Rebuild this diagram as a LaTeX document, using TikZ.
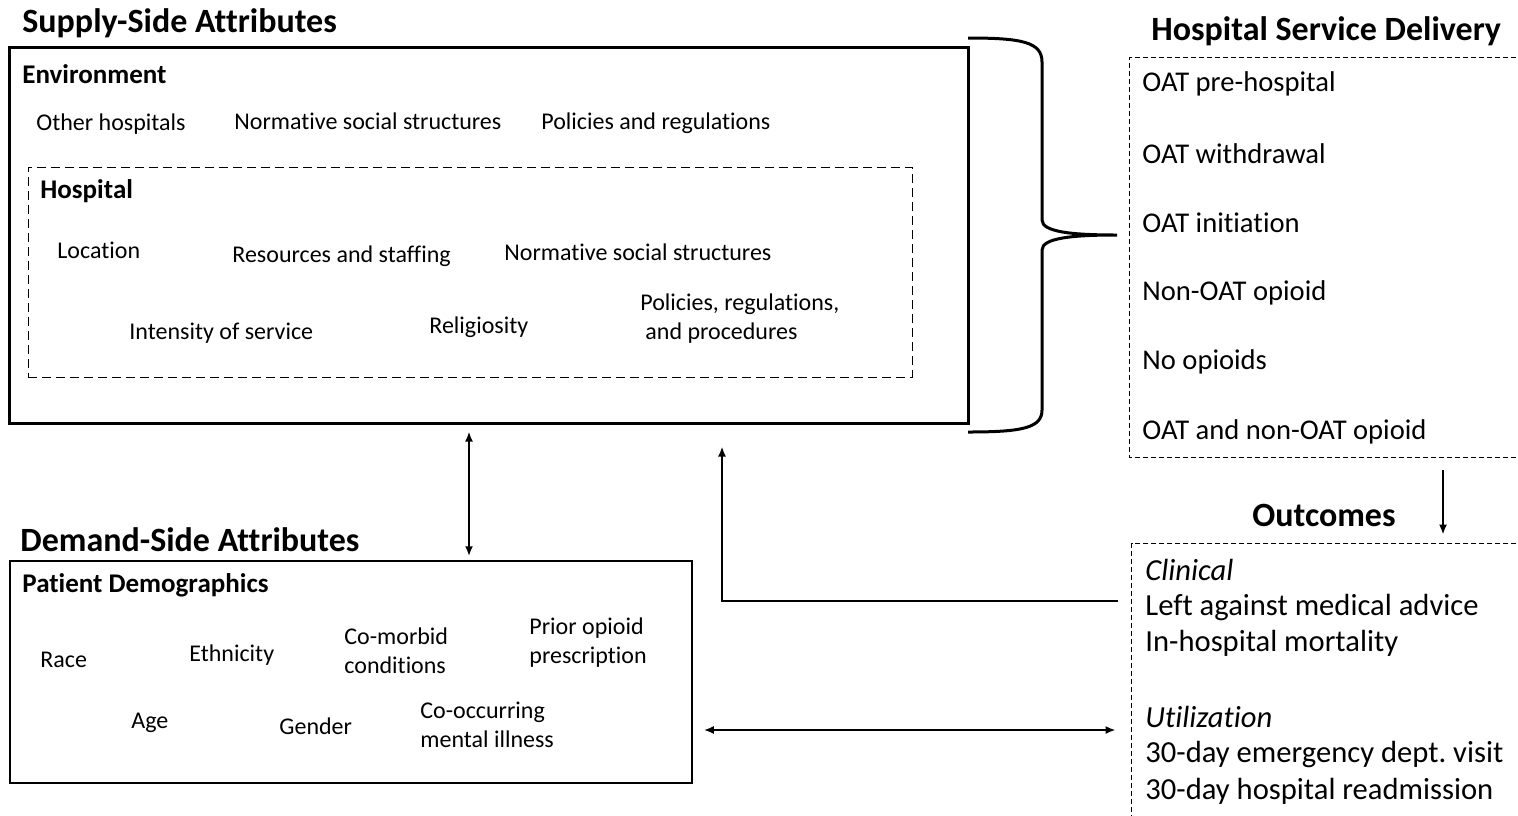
\documentclass[tikz,border=0pt]{standalone}
\usepackage{fontspec}
\setmainfont{Carlito}[Ligatures={NoCommon}]
\usetikzlibrary{arrows.meta,fit}

\tikzset{
  solidbox/.style={draw,inner sep=0pt,line width=1.5pt},
  thinbox/.style={draw,inner sep=0pt,line width=0.75pt},
  dashbox/.style={draw,inner sep=0pt,line width=0.5pt,dash pattern=on 4.5pt off 2.5pt},
  dotbox/.style={line width=0.5pt,dash pattern=on 2.5pt off 1.5pt},
  head/.style={anchor=west,inner sep=0pt,font=\fontsize{17}{20}\selectfont\bfseries},
  subhead/.style={anchor=west,inner sep=0pt,font=\fontsize{13.5}{16}\selectfont\bfseries},
  attr/.style={anchor=west,inner sep=0pt,align=left,font=\fontsize{12}{14.5}\selectfont},
  service/.style={anchor=west,inner sep=0pt,font=\fontsize{14.3}{17}\selectfont},
  outcome/.style={anchor=west,inner sep=0pt,font=\fontsize{15.3}{18}\selectfont},
  link/.style={line width=1pt,-{Latex[length=5pt,width=4pt]}},
  twoway/.style={line width=1pt,{Latex[length=5pt,width=4pt]}-{Latex[length=5pt,width=4pt]}}
}

\begin{document}
\frenchspacing
\begin{tikzpicture}[x=0.5pt,y=-0.5pt]
\clip (0,0) rectangle (1518,815);

% supply side
\node[head] (supplyhead) at (22,23) {Supply-Side Attributes};
\node[solidbox,fit={(9,47) (968,423)}] (supply) {};
\node[subhead] (envhead) at (22,74) {Environment};
\node[attr] (otherhosp) at (36,124) {Other hospitals};
\node[attr] (envnorms) at (234,121) {Normative social structures};
\node[attr] (envpolicy) at (541,123) {Policies and regulations};

\node[dashbox,fit={(28,167) (912,377)}] (hospital) {};
\node[subhead] (hosphead) at (40,191) {Hospital};
\node[attr] (location) at (57,250) {Location};
\node[attr] (resources) at (232,256) {Resources and staffing};
\node[attr] (hospnorms) at (504,252) {Normative social structures};
\node[attr] (intensity) at (129,333) {Intensity of service};
\node[attr] (religion) at (429,327) {Religiosity};
\node[attr] (hosppolicy) at (640,318.5) {Policies, regulations,\\\hspace{2.5pt}and procedures};

% brace towards service delivery
\draw[line width=1.5pt] (968,38) .. controls (1022,38) and (1042,42) .. (1042,62)
  -- (1042,220) .. controls (1042,232) and (1072,235) .. (1117,235)
  .. controls (1072,235) and (1042,238) .. (1042,250)
  -- (1042,410) .. controls (1042,428) and (1022,432) .. (968,432);

% hospital service delivery
\node[head] (hsdhead) at (1151,31) {Hospital Service Delivery};
\node[fit={(1130,58) (1540,457)},inner sep=0pt] (hsd) {};
\draw[dotbox] (hsd.north east) -- (hsd.north west) -- (hsd.south west) -- (hsd.south east);
\node[service] (prehosp) at (1142,84) {OAT pre-hospital};
\node[service] (withdraw) at (1142,154) {OAT withdrawal};
\node[service] (initiate) at (1142,223) {OAT initiation};
\node[service] (nonoat) at (1142,293) {Non-OAT opioid};
\node[service] (noopioid) at (1142,362) {No opioids};
\node[service] (both) at (1142,432) {OAT and non-OAT opioid};

% outcomes
\node[head] (outhead) at (1252,515) {Outcomes};
\node[fit={(1132,544) (1540,830)},inner sep=0pt] (outcomes) {};
\draw[dotbox] (outcomes.north east) -- (outcomes.north west) -- (outcomes.south west);
\node[outcome] (clinical) at (1145,570) {\itshape Clinical};
\node[outcome] (ama) at (1145,607) {Left against medical advice};
\node[outcome] (mortality) at (1145,643) {In-hospital mortality};
\node[outcome] (utilization) at (1145,717) {\itshape Utilization};
\node[outcome] (edvisit) at (1145,754) {30-day emergency dept. visit};
\node[outcome] (readmit) at (1145,791) {30-day hospital readmission};

% demand side
\node[head] (demandhead) at (20,540) {Demand-Side Attributes};
\node[thinbox,fit={(10,561) (692,783)}] (demand) {};
\node[subhead] (demohead) at (22,585) {Patient Demographics};
\node[attr] (race) at (40,660) {Race};
\node[attr] (ethnicity) at (189,655) {Ethnicity};
\node[attr] (comorbid) at (344,650.5) {Co-morbid\\conditions};
\node[attr] (prior) at (529,642.5) {Prior opioid\\prescription};
\node[attr] (age) at (131,723) {Age};
\node[attr] (gender) at (279,726) {Gender};
\node[attr] (mental) at (420,724.5) {Co-occurring\\mental illness};

% connectors
\coordinate (vt) at (469,0);
\coordinate (dn) at (1443,0);
\coordinate (fb) at (722,601);
\coordinate (hz) at (0,730);
\draw[twoway,shorten <=3.5pt,shorten >=2pt] (supply.south -| vt) -- (demand.north -| vt);
\draw[link,shorten <=6.5pt,shorten >=4.5pt] (hsd.south -| dn) -- (outcomes.north -| dn);
\draw[link,shorten <=7pt,shorten >=11pt] (outcomes.west |- fb) -- (fb) -- (supply.south -| fb);
\draw[twoway,shorten <=5.5pt,shorten >=8pt] (demand.east |- hz) -- (outcomes.west |- hz);
\end{tikzpicture}
\end{document}
